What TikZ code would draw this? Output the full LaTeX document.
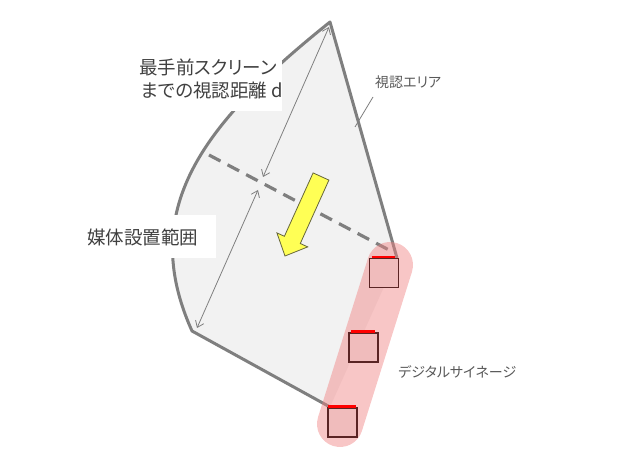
\documentclass[tikz,border=0pt]{standalone}
\usepackage{fontspec}
\setmainfont{Noto Sans CJK JP}[CharacterWidth=AlternateProportional]
\usetikzlibrary{arrows.meta}
\definecolor{edgegray}{HTML}{7F7F7F}
\definecolor{areafill}{HTML}{F2F2F2}
\definecolor{txt}{HTML}{404040}
\definecolor{txtlight}{HTML}{595959}
\definecolor{pillc}{HTML}{F08080}
\definecolor{scrfill}{HTML}{F0BCBC}
\definecolor{scredge}{HTML}{5A2424}
\definecolor{arrowyellow}{HTML}{FFFF55}
\definecolor{arrowedge}{HTML}{66663A}
\tikzset{
  outline/.style={draw=edgegray, line width=3pt, line join=round},
  dashline/.style={draw=edgegray, line width=3.2pt, dash pattern=on 13pt off 8pt},
  dimarrow/.style={draw=edgegray, line width=0.8pt, {Straight Barb[length=6pt,width=9pt]}-{Straight Barb[length=6pt,width=9pt]}},
  leader/.style={draw=edgegray, line width=0.8pt},
  biglabel/.style={inner sep=0pt, text=txt, font=\fontsize{18.5}{23}\selectfont},
  smalllabel/.style={inner sep=0pt, text=txtlight, font=\fontsize{14}{17}\selectfont},
  pill/.style={draw=pillc, draw opacity=0.45, line width=46pt, line cap=round},
  screen/.style={draw=scredge, fill=scrfill, line width=1.2pt, minimum size=29pt, inner sep=0pt},
  redtop/.style={draw=red, line width=2.5pt},
  yellowarrow/.style={fill=arrowyellow, draw=arrowedge, line width=0.8pt, line join=miter}
}
\begin{document}
\begin{tikzpicture}[x=1pt,y=-1pt]
\useasboundingbox (0,0) rectangle (625,470);
% area fill
\fill[areafill] (330,407) -- (192,331) .. controls (138,211) and (200,126) .. (330,22) -- (397,258) -- cycle;
% outline
\draw[outline] (330,407) -- (192,331) .. controls (138,211) and (200,126) .. (330,22) -- (397,258);
% dashed boundary
\coordinate (d1) at (209,155);
\coordinate (d2) at (389,250);
\draw[dashline] (d1) -- (d2);
% dimension arrows
\coordinate (a1) at (329,27);
\coordinate (a2) at (263,177);
\coordinate (b1) at (258,190);
\coordinate (b2) at (197,328);
\draw[dimarrow] (a1) -- (a2);
\draw[dimarrow] (b1) -- (b2);
% yellow arrow
\draw[yellowarrow] (313.1,172.9) -- (328.9,180.1) -- (300.3,243.5) -- (307.7,246.9) -- (285.0,256.0) -- (276.9,232.9) -- (284.4,236.3) -- cycle;
% white label backgrounds
\fill[white] (120,56) rectangle (282,111);
\fill[white] (80,215) rectangle (216,258);
% labels
\node[biglabel, anchor=west] (l1) at (139,67) {最手前スクリーン};
\node[biglabel, anchor=west] (l2) at (141,90) {までの視認距離 d};
\node[biglabel, anchor=west] (l3) at (87,237) {媒体設置範囲};
\node[smalllabel, anchor=west] (l4) at (375,82) {視認エリア};
\node[smalllabel, anchor=west] (l5) at (398,372) {デジタルサイネージ};
% leader
\coordinate (ld1) at (373,97);
\coordinate (ld2) at (355,127);
\draw[leader] (ld1) -- (ld2);
% pill
\coordinate (pc1) at (390,265);
\coordinate (pc2) at (340,424);
\draw[pill] (pc1) -- (pc2);
% screens
\node[screen] (s1) at (383.8,273) {};
\node[screen] (s2) at (363.5,347.5) {};
\node[screen] (s3) at (342.5,422.5) {};
\draw[redtop] ([xshift=3pt,yshift=0.8pt]s1.north west) -- ([xshift=-4pt,yshift=0.8pt]s1.north east);
\draw[redtop] ([xshift=3pt,yshift=0.8pt]s2.north west) -- ([xshift=-4pt,yshift=0.8pt]s2.north east);
\draw[redtop] ([xshift=1pt,yshift=0.8pt]s3.north west) -- ([xshift=-2pt,yshift=0.8pt]s3.north east);
\end{tikzpicture}
\end{document}
